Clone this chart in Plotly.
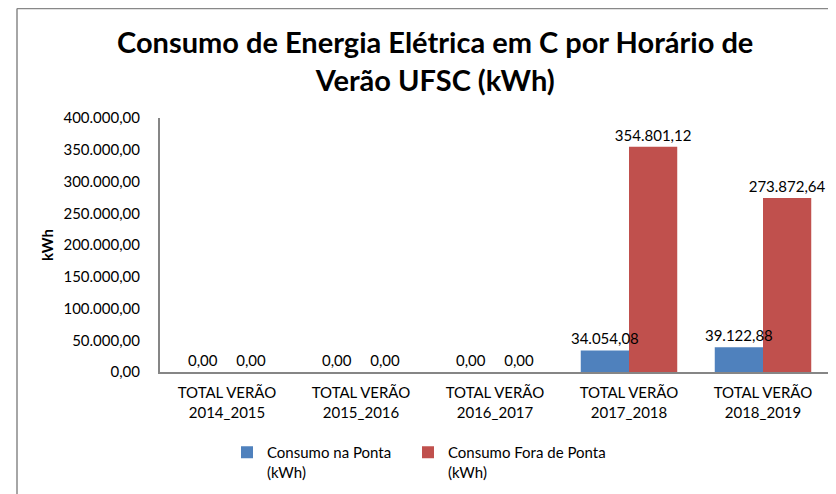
import plotly.graph_objects as go

categories = ["TOTAL VERÃO<br>2014_2015", "TOTAL VERÃO<br>2015_2016", "TOTAL VERÃO<br>2016_2017",
              "TOTAL VERÃO<br>2017_2018", "TOTAL VERÃO<br>2018_2019"]
ponta = [0, 0, 0, 34054.08, 39122.88]
fora_ponta = [0, 0, 0, 354801.12, 273872.64]
y_ticks = [0, 50000, 100000, 150000, 200000, 250000, 300000, 350000, 400000]

FONT = "Lato"
# the page body adds an 8px margin, so the figure is 8px smaller than the window
W, H = 828, 486
L, R, T, B = 152, 6, 110, 122
PW, PH = W - L - R, H - T - B
BAR_W = 0.36


def px_x(x):
    return (x - L) / PW


def px_y(y):
    return 1 + (T - y) / PH


fig = go.Figure()
# red drawn first so the blue labels sit on top of the red bars
fig.add_trace(go.Bar(
    name="Consumo Fora de Ponta<br>(kWh)", x=categories, y=fora_ponta,
    width=BAR_W, offset=0, legend="legend2",
    marker_color="#C0504D", marker_line_width=0,
    texttemplate="%{y:,.2f}", textposition="outside", cliponaxis=False,
    constraintext="none", textfont=dict(size=15, color="#000000"),
))
fig.add_trace(go.Bar(
    name="Consumo na Ponta<br>(kWh)", x=categories, y=ponta,
    width=BAR_W, offset=-BAR_W, legend="legend",
    marker_color="#4F81BD", marker_line_width=0,
    texttemplate="%{y:,.2f}", textposition="outside", cliponaxis=False,
    constraintext="none", textfont=dict(size=15, color="#000000"),
))

legend_style = dict(orientation="h", xanchor="left", yanchor="top", y=px_y(428),
                    valign="top", font=dict(family=FONT, size=15),
                    bgcolor="rgba(0,0,0,0)")

fig.update_layout(
    width=W, height=H,
    separators=",.",
    template="plotly_white",
    font=dict(family=FONT, size=15, color="#000000"),
    barmode="overlay",
    margin=dict(l=L, r=R, t=T, b=B, autoexpand=False),
    plot_bgcolor="white", paper_bgcolor="white",
    showlegend=True,
    legend=dict(x=px_x(219), **legend_style),
    legend2=dict(x=px_x(400), **legend_style),
    xaxis=dict(
        showgrid=False, showline=True, linecolor="#868686", linewidth=2,
        ticks="", tickfont=dict(size=15), ticklabelstandoff=6,
    ),
    yaxis=dict(
        range=[0, 400000], tickvals=y_ticks, tickformat=",.2f",
        showgrid=False, showline=True, linecolor="#868686", linewidth=2,
        ticks="", zeroline=False, tickfont=dict(size=15), ticklabelstandoff=15,
        title=dict(text="<b>kWh</b>", font=dict(size=15), standoff=6),
    ),
    annotations=[
        dict(text="<b>Consumo de Energia Elétrica em C por Horário de<br>Verão UFSC (kWh)</b>",
             xref="paper", yref="paper", x=px_x(427), y=px_y(14),
             xanchor="center", yanchor="top", showarrow=False,
             font=dict(family=FONT, size=29, color="#000000")),
    ],
    shapes=[
        dict(type="line", xref="paper", yref="paper",
             x0=px_x(9), x1=px_x(9), y0=px_y(0.5), y1=px_y(H + 5),
             line=dict(color="#888888", width=1.5)),
        dict(type="line", xref="paper", yref="paper",
             x0=px_x(9), x1=px_x(W + 5), y0=px_y(0.5), y1=px_y(0.5),
             line=dict(color="#888888", width=1.5)),
    ],
)

fig.write_html("out.html")
